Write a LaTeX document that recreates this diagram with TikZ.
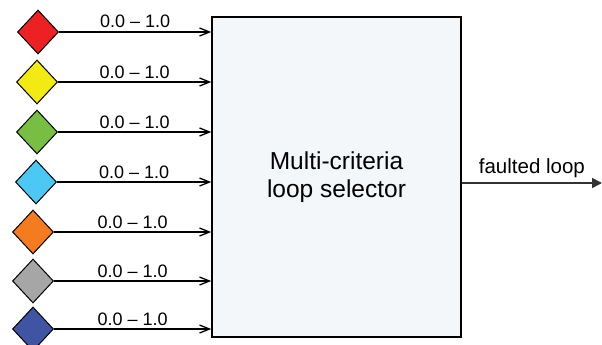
\documentclass[tikz,border=0pt]{standalone}
\usepackage{fontspec}
\setmainfont{Liberation Sans}
\usetikzlibrary{shapes.geometric,arrows.meta}

\definecolor{boxfill}{HTML}{F3F7F9}
\definecolor{inred}{HTML}{ED2024}
\definecolor{inyellow}{HTML}{F2EA12}
\definecolor{ingreen}{HTML}{77BE43}
\definecolor{incyan}{HTML}{4DC8F5}
\definecolor{inorange}{HTML}{F47B20}
\definecolor{ingray}{HTML}{A6A6A6}
\definecolor{inblue}{HTML}{3F55A4}

\tikzset{
  gem/.style={diamond,draw,line width=1pt,minimum width=41pt,minimum height=44pt,inner sep=0pt},
  feed/.style={line width=1.3pt,-{Straight Barb[length=10pt,width=8pt]}},
  outline/.style={line width=1.5pt,draw=black!80,-{Triangle[length=10pt,width=10pt]}}
}

\begin{document}
\begin{tikzpicture}[x=1pt,y=-1pt]
\useasboundingbox (0,0) rectangle (602,345);

% selector box
\node[draw,line width=1.5pt,fill=boxfill,minimum width=249pt,minimum height=320pt,
  inner sep=0pt,align=center,font=\fontsize{24.5}{28}\selectfont] (sel) at (336.5,177)
  {Multi-criteria\\loop selector};

% coloured inputs
\foreach \c/\dx/\y [count=\i] in {inred/38/32, inyellow/37/82, ingreen/37/132,
    incyan/36/182, inorange/33/232, ingray/33/281, inblue/33/329} {
  \node[gem,fill=\c] (g\i) at (\dx,\y) {};
  \coordinate (e\i) at (sel.west |- g\i);
  \draw[feed] (g\i.east) -- node[anchor=base,yshift=4pt,font=\fontsize{18}{21}\selectfont] {0.0 -- 1.0} (e\i);
}

% output
\coordinate (out) at (602,183);
\draw[outline] (sel.east |- out) -- node[anchor=base,yshift=10pt,font=\fontsize{20.5}{24}\selectfont] {faulted loop} (out);

\end{tikzpicture}
\end{document}
